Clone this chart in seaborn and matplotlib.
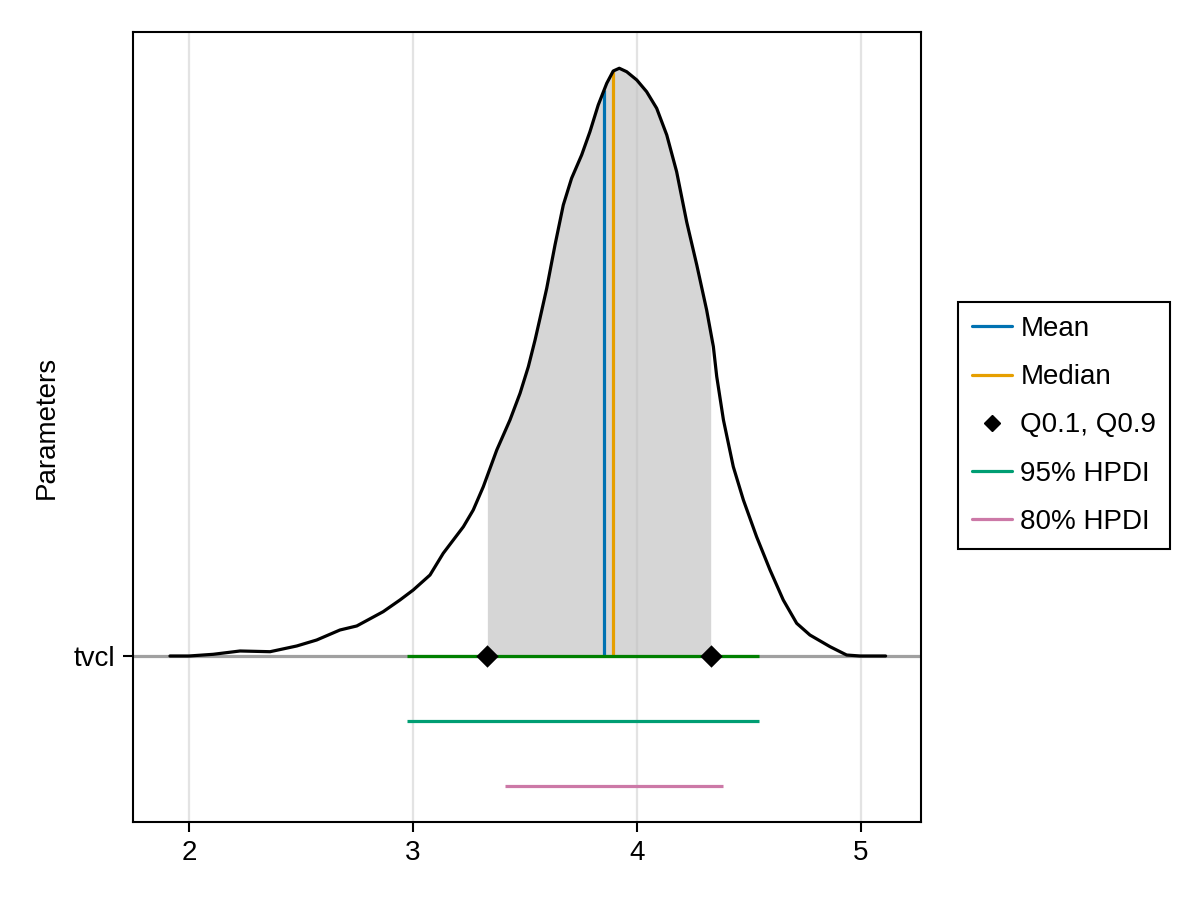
import numpy as np
import pandas as pd
import matplotlib
matplotlib.use("Agg")
import matplotlib.pyplot as plt
import seaborn as sns
from matplotlib.lines import Line2D

# ---------------- data ----------------
param_names = ["tvcl"]
dens_x = [1.915, 2.000, 2.108, 2.228, 2.362, 2.481, 2.570, 2.674, 2.749, 2.867,
          2.942, 3.001, 3.076, 3.135, 3.225, 3.269, 3.314, 3.374, 3.433, 3.478,
          3.515, 3.545, 3.567, 3.597, 3.634, 3.671, 3.708, 3.753, 3.790, 3.827,
          3.865, 3.894, 3.921, 3.954, 3.999, 4.043, 4.088, 4.133, 4.177, 4.222,
          4.267, 4.311, 4.341, 4.356, 4.386, 4.430, 4.475, 4.534, 4.594, 4.653,
          4.713, 4.772, 4.862, 4.936, 4.996, 5.110]
dens_y = [0.000, 0.000, 0.026, 0.077, 0.066, 0.154, 0.246, 0.400, 0.462, 0.682,
          0.862, 1.015, 1.246, 1.580, 1.989, 2.246, 2.605, 3.169, 3.631, 4.042,
          4.451, 4.862, 5.195, 5.657, 6.323, 6.938, 7.349, 7.708, 8.066, 8.477,
          8.811, 9.000, 9.042, 8.989, 8.862, 8.682, 8.426, 8.015, 7.451, 6.677,
          6.015, 5.323, 4.760, 4.300, 3.631, 2.912, 2.400, 1.835, 1.323, 0.862,
          0.503, 0.323, 0.143, 0.015, 0.000, 0.000]
mean_val = 3.854
median_val = 3.893
quantiles = [3.332, 4.329]          # Q0.1, Q0.9
hpdi95 = [2.973, 4.545]
hpdi80 = [3.411, 4.384]
xticks = [2, 3, 4, 5]
legend_labels = ["Mean", "Median", "Q0.1, Q0.9", "95% HPDI", "80% HPDI"]

# ---------------- style ----------------
sns.set_theme(style="ticks")
plt.rcParams['font.family'] = ['Liberation Sans', 'DejaVu Sans']
plt.rcParams['text.color'] = 'black'
plt.rcParams['axes.labelcolor'] = 'black'
plt.rcParams['xtick.color'] = 'black'
plt.rcParams['ytick.color'] = 'black'

W, H = 1200, 900
fig = plt.figure(figsize=(W / 100, H / 100), dpi=100)
ax = fig.add_axes([133 / W, (H - 822) / H, (921 - 133) / W, (822 - 32) / H])

c_mean, c_median = "#0072B2", "#E69F00"
c_95, c_80 = "#009E73", "#CC79A7"
lw = 2.3

dx = np.array(dens_x)
dy = np.array(dens_y)

# baseline of the parameter row
ax.axhline(0, color="#a0a0a0", lw=lw, zorder=2)

# shaded region between Q0.1 and Q0.9
inside = (dx > quantiles[0]) & (dx < quantiles[1])
sx = np.concatenate([[quantiles[0]], dx[inside], [quantiles[1]]])
sy = np.concatenate([[np.interp(quantiles[0], dx, dy)], dy[inside],
                     [np.interp(quantiles[1], dx, dy)]])
ax.fill_between(sx, 0, sy, color="#c0c0c0", alpha=0.65, lw=0, zorder=2.5)

# mean / median lines
ax.vlines(mean_val, 0, np.interp(mean_val, dx, dy), color=c_mean, lw=lw, zorder=3)
ax.vlines(median_val, 0, np.interp(median_val, dx, dy), color=c_median, lw=lw, zorder=3)

# density curve
df = pd.DataFrame({"x": dens_x, "y": dens_y})
sns.lineplot(data=df, x="x", y="y", ax=ax, color="black", lw=lw,
             sort=False, estimator=None, zorder=4,
             solid_joinstyle="round", solid_capstyle="round")

# 95% HPDI on baseline (green)
ax.hlines(0, hpdi95[0], hpdi95[1], color="green", lw=lw, zorder=5)
# quantile markers
sns.scatterplot(x=quantiles, y=[0, 0], ax=ax, marker="D", s=130, color="black",
                edgecolor="black", linewidth=0, zorder=6)

# HPDI rows below
ax.hlines(-1, hpdi95[0], hpdi95[1], color=c_95, lw=lw, zorder=5)
ax.hlines(-2, hpdi80[0], hpdi80[1], color=c_80, lw=lw, zorder=5)

# axes
ax.set_xlim(1.75, 5.268)
ax.set_ylim(-2.554, 9.6)
ax.set_xticks(xticks)
ax.set_xticklabels([str(t) for t in xticks])
ax.set_yticks([0])
ax.set_yticklabels(param_names)
ax.set_xlabel("")
ax.set_ylabel("Parameters", fontsize=20, labelpad=10, color="black")
ax.grid(axis="x", color="#e3e3e3", lw=1.6)
ax.set_axisbelow(True)
ax.tick_params(direction="out", length=7, width=1.5, labelsize=20, pad=6,
               colors="black")
for sp in ax.spines.values():
    sp.set_visible(True)
    sp.set_linewidth(1.5)
    sp.set_color("black")

# legend
handles = [
    Line2D([], [], color=c_mean, lw=lw),
    Line2D([], [], color=c_median, lw=lw),
    Line2D([], [], color="black", marker="D", ls="none", ms=8),
    Line2D([], [], color=c_95, lw=lw),
    Line2D([], [], color=c_80, lw=lw),
]
leg = fig.legend(handles, legend_labels, loc="center left",
                 bbox_to_anchor=(958 / W, 1 - 425.5 / H), frameon=True,
                 fancybox=False, edgecolor="black", framealpha=1, fontsize=20,
                 handlelength=1.45, handletextpad=0.3, labelspacing=0.8,
                 borderpad=0.5, borderaxespad=0, labelcolor="black")
leg.get_frame().set_linewidth(1.5)

fig.savefig("out.png", dpi=100)
